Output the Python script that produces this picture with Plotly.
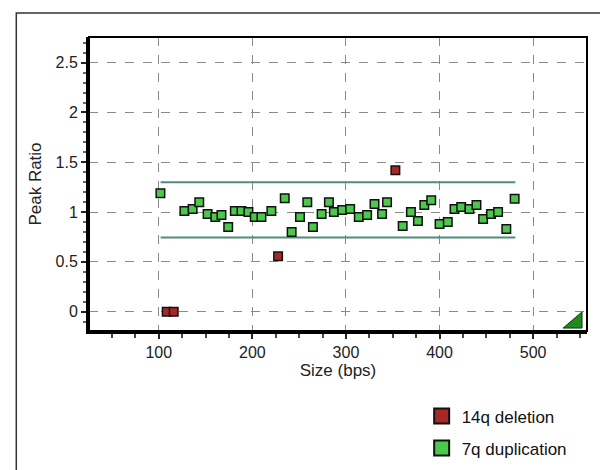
import plotly.graph_objects as go

# Data
green_x = [101.8, 127.4, 136.2, 143.3, 152.2, 160.4, 167.0, 174.2, 181.3, 188.4,
           195.8, 202.6, 209.7, 220.3, 234.6, 242.0, 250.9, 258.7, 264.7, 274.0,
           281.8, 287.1, 296.0, 304.5, 313.7, 322.6, 330.5, 338.6, 343.9, 360.6,
           369.4, 376.9, 383.7, 391.1, 400.0, 408.8, 416.0, 423.1, 431.9, 439.4,
           446.5, 455.0, 462.5, 471.3, 480.2]
green_y = [1.19, 1.01, 1.03, 1.10, 0.98, 0.95, 0.97, 0.85, 1.01, 1.01,
           1.00, 0.95, 0.95, 1.01, 1.14, 0.80, 0.95, 1.10, 0.85, 0.98,
           1.10, 1.00, 1.02, 1.03, 0.95, 0.97, 1.08, 0.98, 1.10, 0.86,
           1.00, 0.91, 1.07, 1.12, 0.88, 0.90, 1.03, 1.05, 1.03, 1.07,
           0.93, 0.98, 1.00, 0.83, 1.135]
red_x = [108.5, 116.0, 227.5, 352.8]
red_y = [0.0, 0.0, 0.556, 1.42]

thresh_x = [102, 481]
upper_y = [1.30, 1.30]
lower_y = [0.745, 0.745]

series_names = ["14q deletion", "7q duplication"]
x_ticks = [100, 200, 300, 400, 500]
y_ticks = [0, 0.5, 1, 1.5, 2, 2.5]
y_tick_labels = ["0", "0.5", "1", "1.5", "2", "2.5"]

RED = "#a82828"
GREEN = "#4cc84c"
LINE = "#4e8c7c"

fig = go.Figure()

fig.add_trace(go.Scatter(x=thresh_x, y=upper_y, mode="lines",
                         line=dict(color=LINE, width=2), showlegend=False, hoverinfo="skip"))
fig.add_trace(go.Scatter(x=thresh_x, y=lower_y, mode="lines",
                         line=dict(color=LINE, width=2), showlegend=False, hoverinfo="skip"))

fig.add_trace(go.Scatter(x=green_x, y=green_y, mode="markers", showlegend=False,
                         marker=dict(symbol="square", size=8.5, color=GREEN,
                                     line=dict(color="#111", width=1.5))))
fig.add_trace(go.Scatter(x=red_x, y=red_y, mode="markers", showlegend=False,
                         marker=dict(symbol="square", size=8.5, color=RED,
                                     line=dict(color="#111", width=1.5))))

# legend entries
fig.add_trace(go.Scatter(x=[None], y=[None], mode="markers", name=series_names[0],
                         legendgroup="a",
                         marker=dict(symbol="square", size=15, color=RED,
                                     line=dict(color="#111", width=2))))
fig.add_trace(go.Scatter(x=[None], y=[None], mode="markers", name=series_names[1],
                         legendgroup="b",
                         marker=dict(symbol="square", size=15, color=GREEN,
                                     line=dict(color="#111", width=2))))

fig.update_layout(
    width=608, height=470,
    margin=dict(l=81, r=29, t=29, b=147),
    paper_bgcolor="white", plot_bgcolor="white",
    font=dict(family="Liberation Sans, Arial, sans-serif", size=16, color="#222"),
    showlegend=True,
    legend=dict(x=0.668, y=-0.229, xanchor="left", yanchor="top",
                font=dict(size=17, color="#111"), tracegroupgap=7,
                bgcolor="rgba(0,0,0,0)", itemwidth=30),
    xaxis=dict(range=[25.5, 557.5], tickvals=x_ticks, ticks="outside", ticklen=5,
               tickwidth=1.5, tickcolor="#222", tickfont=dict(size=16),
               minor=dict(dtick=25, tick0=0, ticks="outside", ticklen=4, tickcolor="#444",
                          showgrid=False),
               showgrid=True, gridcolor="#8a8a8a", griddash="dash", gridwidth=1.3,
               showline=True, linecolor="#000", linewidth=3, zeroline=False,
               title=dict(text="Size (bps)", standoff=0, font=dict(size=17))),
    yaxis=dict(range=[-0.194, 2.758], tickvals=y_ticks, ticktext=y_tick_labels,
               ticks="outside", ticklen=5, tickwidth=1.5, tickcolor="#222",
               tickfont=dict(size=16),
               minor=dict(dtick=0.1, tick0=0, ticks="outside", ticklen=3, tickcolor="#666",
                          showgrid=False),
               showgrid=True, gridcolor="#8a8a8a", griddash="dash", gridwidth=1.3,
               showline=True, linecolor="#000", linewidth=3, zeroline=False,
               title=dict(text="Peak Ratio", standoff=10, font=dict(size=17))),
    shapes=[
        # plot frame top/right
        dict(type="rect", xref="paper", yref="paper", x0=0, x1=1, y0=0, y1=1,
             line=dict(color="#000", width=2), layer="above"),
        # outer panel border
        dict(type="rect", xref="paper", yref="paper", x0=-0.146, x1=1.06, y0=-0.6, y1=1.082,
             line=dict(color="#333", width=1.5), layer="below"),
        # corner triangle
        dict(type="path", xref="paper", yref="paper",
             path="M 0.952 0.01 L 0.990 0.01 L 0.990 0.065 Z",
             fillcolor="#1f8a1f", line=dict(color="#0a3a0a", width=1), layer="above"),
    ],
)

fig.write_html("out.html")
